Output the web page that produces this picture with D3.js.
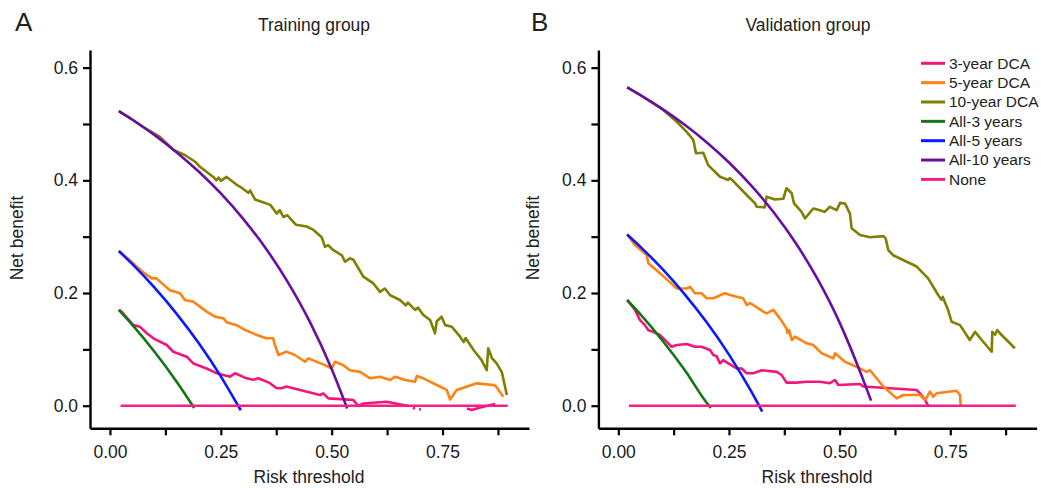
<!DOCTYPE html>
<html>
<head>
<meta charset="utf-8">
<script src="https://cdn.jsdelivr.net/npm/d3@7"></script>
<style>
  html, body { margin: 0; padding: 0; background: #fff; }
  svg { display: block; font-family: "Liberation Sans", Arial, Helvetica, sans-serif; }
</style>
</head>
<body>
<svg id="chart" width="1041" height="488"></svg>
<script>
// ---------------- DATA ----------------
const panelTitles = ["Training group", "Validation group"];
const panelLetters = ["A", "B"];
const seriesNames = ["3-year DCA", "5-year DCA", "10-year DCA", "All-3 years", "All-5 years", "All-10 years", "None"];
const seriesColors = ["#F2167C", "#FF8212", "#7F7F00", "#137513", "#0A1AFF", "#680FA0", "#F71E88"];
const xTickValues = [0, 0.125, 0.25, 0.375, 0.5, 0.625, 0.75, 0.875];
const xTickLabels = ["0.00", "", "0.25", "", "0.50", "", "0.75", ""];
const yTickValues = [0, 0.1, 0.2, 0.3, 0.4, 0.5, 0.6];
const yTickLabels = ["0.0", "", "0.2", "", "0.4", "", "0.6"];

// Training group
const train_dca3 = [[0.02,0.170],[0.026,0.167],[0.0526,0.143],[0.068,0.140],[0.083,0.1285],[0.098,0.1196],[0.128,0.1077],[0.143,0.0958],[0.173,0.087],[0.188,0.075],[0.218,0.066],[0.241,0.0575],[0.271,0.0515],[0.282,0.0575],[0.308,0.0486],[0.323,0.046],[0.3345,0.0486],[0.361,0.040],[0.376,0.031],[0.387,0.031],[0.398,0.034],[0.4286,0.028],[0.4737,0.019],[0.481,0.022],[0.4925,0.013],[0.530,0.0113],[0.549,0.010],[0.560,-0.0005],[0.5714,0.004],[0.624,0.007],[0.673,-0.0005],[0.678,null],[0.683,-0.004],[0.688,-0.005],[0.692,null],[0.697,-0.006],[0.701,-0.007],[0.75,null],[0.805,-0.005],[0.816,-0.0076],[0.835,-0.003],[0.8685,0.003]];
const train_dca5 = [[0.02,0.2745],[0.045,0.258],[0.07,0.240],[0.094,0.226],[0.105,0.226],[0.135,0.205],[0.158,0.1995],[0.169,0.1876],[0.188,0.1846],[0.218,0.167],[0.237,0.158],[0.256,0.155],[0.263,0.148],[0.286,0.143],[0.303,0.135],[0.331,0.1255],[0.353,0.1196],[0.368,0.1196],[0.372,0.108],[0.380,0.090],[0.3895,0.093],[0.398,0.096],[0.417,0.090],[0.44,0.078],[0.447,0.084],[0.485,0.072],[0.500,0.066],[0.5075,0.078],[0.526,0.072],[0.541,0.063],[0.564,0.060],[0.5865,0.0486],[0.609,0.0515],[0.632,0.0456],[0.643,0.0515],[0.6655,0.0456],[0.688,0.0426],[0.692,0.0527],[0.7067,0.0486],[0.737,0.0367],[0.7595,0.028],[0.767,0.011],[0.782,0.028],[0.827,0.0397],[0.865,0.0367],[0.870,0.035],[0.887,0.016]];
const train_dca10 = [[0.02,0.523],[0.05,0.508],[0.08,0.492],[0.1128,0.477],[0.143,0.454],[0.169,0.445],[0.192,0.433],[0.203,0.424],[0.233,0.406],[0.240,0.400],[0.245,0.405],[0.250,0.399],[0.263,0.406],[0.286,0.392],[0.293,0.389],[0.312,0.378],[0.316,0.382],[0.327,0.366],[0.353,0.359],[0.362,0.356],[0.376,0.341],[0.383,0.347],[0.391,0.335],[0.400,0.338],[0.413,0.3265],[0.420,0.321],[0.4435,0.318],[0.459,0.312],[0.4775,0.299],[0.485,0.282],[0.492,0.285],[0.504,0.276],[0.523,0.267],[0.530,0.2555],[0.5414,0.2615],[0.549,0.259],[0.5714,0.229],[0.594,0.217],[0.609,0.202],[0.620,0.208],[0.632,0.196],[0.654,0.1876],[0.667,0.178],[0.672,0.183],[0.688,0.170],[0.695,0.174],[0.7067,0.161],[0.722,0.152],[0.733,0.1285],[0.737,0.150],[0.748,0.158],[0.756,0.143],[0.771,0.140],[0.7896,0.1225],[0.798,0.113],[0.802,0.120],[0.820,0.0988],[0.838,0.081],[0.8497,0.063],[0.853,0.102],[0.861,0.085],[0.872,0.075],[0.884,0.059],[0.895,0.019]];
const train_all3 = [[0.02,0.170],[0.05,0.1438],[0.10,0.0962],[0.15,0.0431],[0.19,-0.004]];
const train_all5 = [[0.02,0.2745],[0.05,0.2516],[0.10,0.210],[0.15,0.1635],[0.20,0.1112],[0.25,0.052],[0.29,-0.0014],[0.295,-0.008]];
const train_all10 = [[0.02,0.523],[0.05,0.508],[0.10,0.4806],[0.15,0.450],[0.20,0.4156],[0.25,0.3767],[0.30,0.3321],[0.35,0.2808],[0.40,0.2208],[0.45,0.150],[0.50,0.065],[0.535,-0.005]];
const train_none = [[0.024,0],[0.897,0]];

// Validation group
const valid_dca3 = [[0.02,0.1876],[0.0377,0.170],[0.049,0.152],[0.060,0.143],[0.0678,0.134],[0.079,0.131],[0.094,0.1255],[0.109,0.1136],[0.1206,0.1047],[0.132,0.1077],[0.1545,0.1095],[0.173,0.1047],[0.188,0.1047],[0.207,0.099],[0.2146,0.090],[0.222,0.088],[0.2297,0.0752],[0.237,0.081],[0.2485,0.0752],[0.2675,0.066],[0.279,0.066],[0.290,0.0575],[0.305,0.0575],[0.324,0.063],[0.358,0.060],[0.369,0.0545],[0.380,0.041],[0.403,0.041],[0.4256,0.0426],[0.4556,0.0426],[0.478,0.040],[0.4895,0.0456],[0.497,0.0367],[0.546,0.0385],[0.5534,0.034],[0.674,0.028],[0.6815,0.022],[0.693,0.010],[0.700,0.0]];
const valid_dca5 = [[0.02,0.304],[0.0377,0.285],[0.064,0.2675],[0.0678,0.2527],[0.094,0.235],[0.124,0.214],[0.132,0.208],[0.1545,0.208],[0.162,0.211],[0.173,0.1995],[0.188,0.1995],[0.1997,0.1906],[0.2146,0.1906],[0.241,0.1995],[0.2523,0.1965],[0.2675,0.1935],[0.282,0.1906],[0.290,0.1787],[0.297,0.182],[0.305,0.1787],[0.3275,0.167],[0.335,0.164],[0.350,0.170],[0.365,0.155],[0.380,0.137],[0.382,0.129],[0.386,0.134],[0.3917,0.1166],[0.399,0.1225],[0.4256,0.1107],[0.4405,0.1077],[0.4594,0.093],[0.4857,0.084],[0.4895,0.093],[0.512,0.078],[0.5385,0.069],[0.561,0.060],[0.5686,0.063],[0.5986,0.034],[0.629,0.013],[0.644,0.019],[0.6815,0.019],[0.693,0.010],[0.704,0.025],[0.7115,0.016],[0.719,0.022],[0.764,0.0266],[0.772,0.019],[0.7735,0.001]];
const valid_dca10 = [[0.02,0.565],[0.05,0.551],[0.08,0.536],[0.1017,0.5248],[0.132,0.504],[0.1545,0.486],[0.1695,0.4715],[0.1755,0.448],[0.192,0.449],[0.203,0.427],[0.2297,0.4064],[0.2485,0.4005],[0.252,0.404],[0.258,0.400],[0.290,0.374],[0.309,0.359],[0.3126,0.353],[0.331,0.352],[0.335,0.371],[0.354,0.366],[0.3727,0.3673],[0.380,0.386],[0.3917,0.377],[0.397,0.359],[0.414,0.344],[0.4217,0.3326],[0.4405,0.350],[0.4556,0.347],[0.466,0.344],[0.478,0.353],[0.4933,0.347],[0.501,0.360],[0.512,0.359],[0.5234,0.341],[0.527,0.315],[0.546,0.303],[0.5686,0.299],[0.5986,0.301],[0.604,0.297],[0.610,0.276],[0.621,0.267],[0.674,0.247],[0.700,0.226],[0.723,0.196],[0.730,0.188],[0.733,0.193],[0.745,0.170],[0.753,0.149],[0.772,0.143],[0.794,0.1166],[0.806,0.131],[0.821,0.1166],[0.8435,0.0958],[0.845,0.131],[0.851,0.126],[0.856,0.134],[0.866,0.1255],[0.896,0.102]];
const valid_all3 = [[0.02,0.1876],[0.05,0.1619],[0.10,0.1153],[0.15,0.0633],[0.20,0.0048],[0.209,-0.004]];
const valid_all5 = [[0.02,0.304],[0.05,0.282],[0.10,0.2422],[0.15,0.1976],[0.20,0.1475],[0.25,0.0907],[0.30,0.0257],[0.325,-0.0104]];
const valid_all10 = [[0.02,0.565],[0.05,0.5513],[0.10,0.5263],[0.15,0.4985],[0.20,0.4671],[0.25,0.4316],[0.30,0.391],[0.35,0.3441],[0.40,0.2895],[0.45,0.2249],[0.50,0.1474],[0.55,0.0527],[0.571,0.009]];
const valid_none = [[0.024,0],[0.898,0]];

const trainSeries = [train_dca3, train_dca5, train_dca10, train_all3, train_all5, train_all10, train_none];
const validSeries = [valid_dca3, valid_dca5, valid_dca10, valid_all3, valid_all5, valid_all10, valid_none];

// ---------------- DRAW ----------------
const svg = d3.select("#chart");
const xDomain = [-0.045, 0.945];
const yDomain = [-0.0401, 0.6313];
const textColor = "#1a1a1a";

const panels = [
  { series: trainSeries, xr: [90, 529], yAxisX: 90, titleX: 314, letterX: 15, yLabX: 23, xLabX: 309 },
  { series: validSeries, xr: [598.4, 1036.6], yAxisX: 598.4, titleX: 808, letterX: 531, yLabX: 539, xLabX: 817 }
];
const yRange = [428.3, 50];

panels.forEach((p, i) => {
  const x = d3.scaleLinear().domain(xDomain).range(p.xr);
  const y = d3.scaleLinear().domain(yDomain).range(yRange);
  const g = svg.append("g");

  // axes
  const yAxis = d3.axisLeft(y).tickValues(yTickValues)
    .tickFormat((d, k) => yTickLabels[k]).tickSize(7).tickSizeOuter(0).tickPadding(5);
  const ya = g.append("g").attr("transform", `translate(${p.yAxisX},0)`).call(yAxis);
  const xAxis = d3.axisBottom(x).tickValues(xTickValues)
    .tickFormat((d, k) => xTickLabels[k]).tickSize(7).tickSizeOuter(0).tickPadding(10);
  const xa = g.append("g").attr("transform", `translate(0,${yRange[0]})`).call(xAxis);
  [ya, xa].forEach(a => {
    a.select(".domain").attr("stroke", "#000").attr("stroke-width", 2.4);
    a.selectAll(".tick line").attr("stroke", "#000").attr("stroke-width", 2.2);
    a.selectAll(".tick text").attr("fill", textColor).style("font-size", "17.5px");
  });

  // lines
  p.series.forEach((data, si) => {
    const smooth = si >= 3 && si <= 5;
    const line = d3.line()
      .defined(d => d[1] !== null)
      .x(d => x(d[0])).y(d => y(d[1]))
      .curve(smooth ? d3.curveMonotoneX : d3.curveLinear);
    g.append("path").datum(data)
      .attr("d", line)
      .attr("fill", "none")
      .attr("stroke", seriesColors[si])
      .attr("stroke-width", 2.6)
      .attr("stroke-linejoin", "round");
  });

  // titles
  svg.append("text").attr("x", p.titleX).attr("y", 31).attr("text-anchor", "middle")
    .attr("fill", "#222").style("font-size", "17.5px").text(panelTitles[i]);
  svg.append("text").attr("x", p.letterX).attr("y", 31)
    .attr("fill", "#222").style("font-size", "26px").text(panelLetters[i]);
  svg.append("text").attr("transform", `translate(${p.yLabX},238) rotate(-90)`).attr("text-anchor", "middle")
    .attr("fill", "#222").style("font-size", "17.5px").text("Net benefit");
  svg.append("text").attr("x", p.xLabX).attr("y", 483).attr("text-anchor", "middle")
    .attr("fill", "#222").style("font-size", "17.5px").text("Risk threshold");
});

// legend (inside validation panel)
const leg = svg.append("g").attr("transform", "translate(921,63.3)");
seriesNames.forEach((name, k) => {
  const row = leg.append("g").attr("transform", `translate(0,${k * 19.35})`);
  row.append("line").attr("x1", 0).attr("x2", 24).attr("y1", 0).attr("y2", 0)
    .attr("stroke", seriesColors[k]).attr("stroke-width", 3);
  row.append("text").attr("x", 28).attr("y", 0).attr("dy", "0.35em")
    .attr("fill", "#222").style("font-size", "15.5px").text(name);
});
</script>
</body>
</html>
